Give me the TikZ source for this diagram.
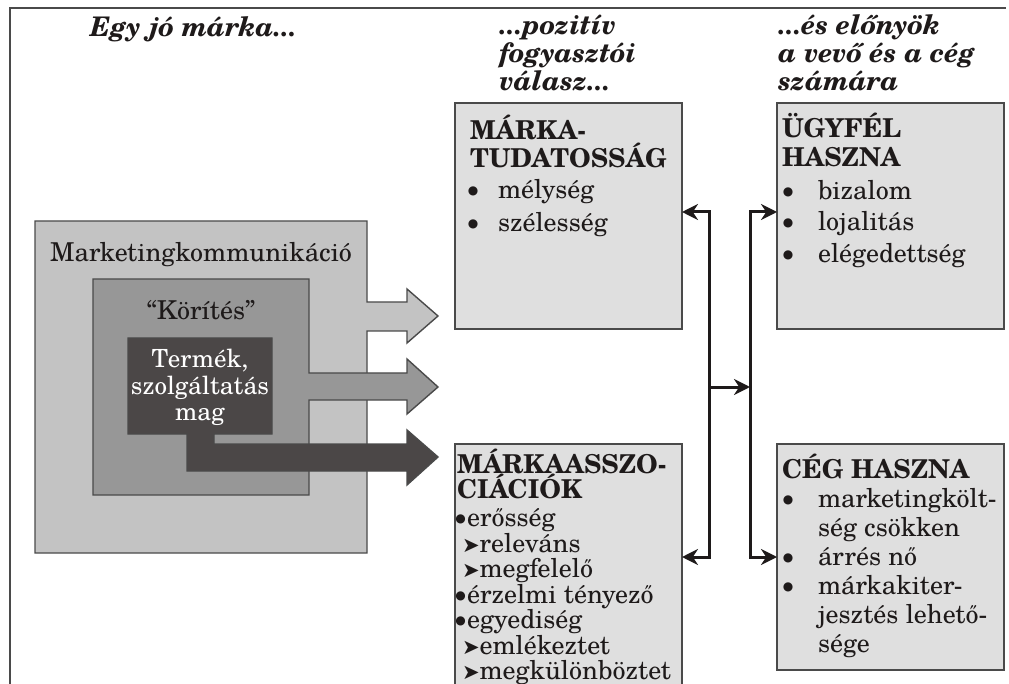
\documentclass[tikz,border=0pt]{standalone}
\usepackage{fontspec}
\setmainfont{TeX Gyre Schola}
\newfontfamily\symfont{DejaVu Sans}
\usetikzlibrary{arrows.meta}
\definecolor{outerg}{HTML}{C3C3C3}
\definecolor{midg}{HTML}{979797}
\definecolor{innerg}{HTML}{4B4747}
\definecolor{boxg}{HTML}{DFDFDF}
\definecolor{edgeg}{HTML}{4A4A4A}
\definecolor{inkc}{HTML}{1E1A1A}
\newcommand\blt[1]{\makebox[#1pt][c]{\raisebox{4pt}{\symfont\fontsize{12}{12}\selectfont ●}}}
\newcommand\tri{{\raisebox{0pt}{\symfont\fontsize{21}{21}\selectfont ➤}}}
\begin{document}
\begin{tikzpicture}[x=1pt,y=-1pt,
  every node/.style={inner sep=0pt,outer sep=0pt,text=inkc},
  body/.style={font=\fontsize{26}{31}\selectfont,anchor=base west},
  bodyc/.style={font=\fontsize{26}{31}\selectfont,anchor=base},
  ttl/.style={font=\fontsize{26}{31}\selectfont\bfseries,anchor=base west},
  head/.style={font=\fontsize{27}{28}\selectfont\bfseries\itshape,anchor=base west},
  rbox/.style={draw=edgeg,fill=boxg,line width=1.4pt,anchor=north west,minimum width=227pt},
  blockshape/.style={draw=edgeg,line width=1.4pt,line join=miter},
  conn/.style={draw=inkc,line width=3pt,{Stealth[length=16pt,width=16pt]}-{Stealth[length=16pt,width=16pt]}},
  conn1/.style={draw=inkc,line width=3pt,-{Stealth[length=16pt,width=16pt]}}]
\useasboundingbox (0,0) rectangle (1009,684);
\clip (0,0) rectangle (1009,684);
\fill[white] (0,0) rectangle (1009,684);
% frame
\draw[draw=edgeg,line width=2pt] (10,690) -- (10,8) -- (1006,8);
% headings
\node[head] (h1) at (90,37) {Egy jó márka...};
\node[head] (h2a) at (499,35) {...pozitív};
\node[head] (h2b) at (499,63) {fogyasztói};
\node[head] (h2c) at (499,91) {válasz...};
\node[head] (h3a) at (778,35) {...és előnyök};
\node[head] (h3b) at (778,63) {a vevő és a cég};
\node[head] (h3c) at (778,91) {számára};
% nested squares with arrows
\path[blockshape,fill=outerg] (35,221) -- (367,221) -- (367,302) -- (407,302) -- (407,289) -- (438,316) -- (407,343) -- (407,331) -- (367,331) -- (367,553) -- (35,553) -- cycle;
\path[blockshape,fill=midg] (93,279) -- (309,279) -- (309,373) -- (407,373) -- (407,359) -- (438,387) -- (407,414) -- (407,400) -- (309,400) -- (309,495) -- (93,495) -- cycle;
\path[blockshape,fill=innerg] (128,338) -- (272,338) -- (272,434) -- (214,434) -- (214,444) -- (407,444) -- (407,430) -- (438,457) -- (407,485) -- (407,471) -- (187,471) -- (187,434) -- (128,434) -- cycle;
\node[bodyc] (mk) at (201,262) {Marketingkommunikáció};
\node[bodyc] (kor) at (201,320) {“Körítés”};
\node[bodyc,font=\fontsize{25}{25}\selectfont,text=white] (tm1) at (200,367) {Termék,};
\node[bodyc,font=\fontsize{25}{25}\selectfont,text=white] (tm2) at (200,394) {szolgáltatás};
\node[bodyc,font=\fontsize{25}{25}\selectfont,text=white] (tm3) at (200,420) {mag};
% right boxes
\node[rbox,minimum height=226pt] (b1) at (455,103) {};
\node[rbox,minimum height=226pt] (b2) at (777,103) {};
\node[rbox,minimum height=270pt] (b3) at (455,444) {};
\node[rbox,minimum height=226pt] (b4) at (777,444) {};
% box 1
\node[ttl] (b1t1) at (470,140) {MÁRKA-};
\node[ttl] (b1t2) at (470,168) {TUDATOSSÁG};
\node[body] (b1i1) at (448,199) {\blt{50}mélység};
\node[body] (b1i2) at (448,232) {\blt{50}szélesség};
% box 2
\node[ttl] (b2t1) at (782,138) {ÜGYFÉL};
\node[ttl] (b2t2) at (782,167) {HASZNA};
\node[body] (b2i1) at (758,200) {\blt{60}bizalom};
\node[body] (b2i2) at (758,231) {\blt{60}lojalitás};
\node[body] (b2i3) at (758,263) {\blt{60}elégedettség};
% box 3
\node[ttl] (b3t1) at (457,473) {MÁRKAASSZO-};
\node[ttl] (b3t2) at (457,498) {CIÁCIÓK};
\node[body] (b3i1) at (454,526) {\blt{13}erősség};
\node[body] (b3i2) at (462,552) {\tri releváns};
\node[body] (b3i3) at (462,577) {\tri megfelelő};
\node[body] (b3i4) at (454,603) {\blt{13}érzelmi tényező};
\node[body] (b3i5) at (454,628) {\blt{13}egyediség};
\node[body] (b3i6) at (462,654) {\tri emlékeztet};
\node[body] (b3i7) at (462,679) {\tri megkülönböztet};
% box 4
\node[ttl] (b4t1) at (782,478) {CÉG HASZNA};
\node[body] (b4i1) at (758,507) {\blt{60}marketingkölt-};
\node[body] (b4i2) at (818,536) {ség csökken};
\node[body] (b4i3) at (758,565) {\blt{60}árrés nő};
\node[body] (b4i4) at (758,594) {\blt{60}márkakiter-};
\node[body] (b4i5) at (818,623) {jesztés lehető-};
\node[body] (b4i6) at (818,652) {sége};
% connectors
\coordinate (ya) at (0,212);
\coordinate (yb) at (0,557);
\coordinate (jl) at (709,387);
\coordinate (jr) at (750,387);
\draw[conn] (b1.east |- ya) -| (jl) |- (b3.east |- yb);
\draw[conn] (b2.west |- ya) -| (jr) |- (b4.west |- yb);
\draw[conn1] (jl) -- (jr);
\end{tikzpicture}
\end{document}
